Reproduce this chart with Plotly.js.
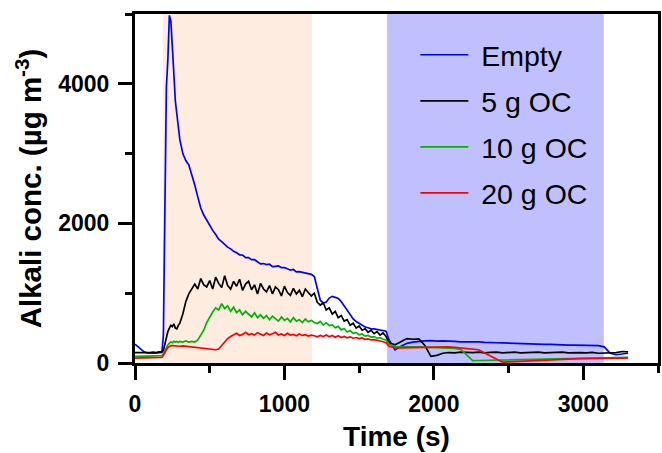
<!DOCTYPE html>
<html>
<head>
<meta charset="utf-8">
<script src="https://cdn.plot.ly/plotly-3.0.1.min.js"></script>
<style>html,body{margin:0;padding:0;background:#fff;}#chart{width:662px;height:453px;}</style>
</head>
<body>
<div id="chart"></div>
<script>
// Time axis (s)
const time = [0,20,40,60,80,100,120,140,160,180,
 190,200,210,220,230,240,250,260,270,280,290,300,
 320,340,360,380,400,420,440,460,480,500,520,540,560,580,600,620,640,660,680,700,720,740,760,780,800,
 820,840,860,880,900,920,940,960,980,1000,1020,1040,1060,1080,1100,1120,1140,1160,1180,1200,
 1220,1240,1260,1280,1300,1320,1340,1360,1380,1400,1420,1440,1460,1480,1500,1520,1540,1560,1580,1600,
 1620,1640,1660,1680,1700,
 1740,1780,1820,1860,1900,1940,1980,2020,2060,2100,2140,2180,2220,2260,2300,2340,2380,2420,2460,2500,
 2540,2580,2620,2660,2700,2740,2780,2820,2860,2900,2940,2980,3020,3060,3100,3140,3180,3220,3260,3300];

// Alkali concentration (µg m-3)
const empty = [270,230,190,160,145,140,140,142,145,150,
 400,2500,3950,4350,4980,4900,4400,4150,3750,3550,3380,3200,
 3000,2900,2840,2710,2550,2380,2220,2120,2040,1980,1900,1840,1775,1740,1700,1660,1635,1600,1580,1550,
 1545,1510,1510,1480,1480,1450,1420,1425,1410,1415,1380,1385,1390,1365,1365,1350,1330,1340,1305,1310,
 1300,1285,1280,1270,1240,1050,900,860,875,930,955,940,925,880,820,760,690,630,595,570,545,515,505,490,490,
 480,475,465,455,330,
 190,240,282,300,312,318,320,312,316,308,310,304,306,300,302,296,298,290,288,284,
 285,280,279,272,272,266,267,261,262,257,256,254,252,249,250,232,140,118,125,140];

const oc5 = [150,150,140,150,145,150,155,150,160,160,
 180,280,380,450,500,540,520,560,500,490,540,570,
 700,880,990,1060,
 1130,1060,1210,1120,1090,1180,1060,1230,1140,1080,1250,1110,1060,1170,1100,1200,1040,1130,1170,1050,
 1120,990,1140,1060,1020,1110,990,1090,1050,960,1100,1010,970,1070,990,1040,950,1060,1010,960,1000,
 870,830,860,760,790,700,740,650,680,600,620,540,570,500,530,470,490,440,470,420,450,400,430,380,290,
 260,310,350,340,345,250,95,110,140,150,145,155,150,148,155,145,152,156,146,150,
 155,145,151,149,156,144,150,152,155,145,150,149,146,151,140,141,146,150,165,160];

const oc10 = [95,95,95,100,100,100,100,105,105,105,
 130,180,220,260,285,300,290,310,300,310,295,310,
 300,315,300,310,300,330,400,470,580,660,
 730,790,760,850,780,820,740,800,720,760,690,740,700,660,720,650,690,640,680,620,
 670,630,600,660,610,640,590,650,600,620,580,630,590,610,580,
 565,595,545,575,535,545,505,525,475,495,445,465,425,435,405,415,385,395,370,378,355,362,340,332,270,
 235,232,236,231,230,228,226,222,220,215,210,195,110,35,36,38,38,40,42,45,
 47,50,52,55,57,60,62,64,66,68,70,70,72,74,75,76,78,78,80,80];

const oc20 = [70,70,72,70,72,75,75,75,78,80,
 110,160,190,220,240,250,248,245,250,240,245,240,
 245,240,235,232,225,228,220,212,205,200,195,190,200,250,310,350,380,
 400,425,395,410,440,405,420,400,435,410,395,430,405,420,440,400,415,395,425,400,410,390,415,395,405,385,400,390,
 375,395,380,400,375,395,370,390,365,380,360,375,355,365,350,360,340,345,330,335,320,315,305,290,240,
 215,218,220,220,222,225,225,228,228,230,225,215,205,200,190,145,100,55,12,15,
 20,25,30,33,38,42,46,50,55,58,60,62,65,66,68,69,70,70,71,72];

const seriesNames = ['Empty', '5 g OC', '10 g OC', '20 g OC'];
const seriesData = [empty, oc5, oc10, oc20];
const seriesColors = ['#0000ff', '#000000', '#00b400', '#ff0000'];

// shaded periods (s)
const period1 = [187, 1185];
const period2 = [1687, 3137];

const font = 'Liberation Sans, Arial, sans-serif';

const traces = seriesNames.map((n, i) => ({
  x: time, y: seriesData[i], name: '\u00a0' + n, type: 'scatter', mode: 'lines',
  legendgroup: 'g' + i,
  line: {color: seriesColors[i], width: 1.7}
}));

const axisCommon = {
  showgrid: false, zeroline: false, showline: true, linecolor: '#000', linewidth: 3,
  mirror: true, ticks: 'outside', ticklen: 14, tickwidth: 3, tickcolor: '#000',
  tickfont: {family: font, size: 23, color: '#000', weight: 'bold'},
  ticklabelstandoff: 4
};

const layout = {
  width: 662, height: 453,
  margin: {l: 135, r: 4, t: 14, b: 90},
  paper_bgcolor: '#fff', plot_bgcolor: '#fff',
  showlegend: true,
  legend: {x: 0.536, y: 0.955, xanchor: 'left', yanchor: 'top', bgcolor: 'rgba(0,0,0,0)',
    font: {family: font, size: 28.5, color: '#000'}, traceorder: 'grouped', tracegroupgap: 6, itemwidth: 48},
  xaxis: Object.assign({}, axisCommon, {
    range: [0, 3500], dtick: 1000, tick0: 0,
    minor: {ticks: 'outside', ticklen: 7, tickwidth: 3, tickcolor: '#000', dtick: 500},
    title: {text: 'Time (s)', font: {family: font, size: 28, color: '#000', weight: 'bold'}, standoff: 11}
  }),
  yaxis: Object.assign({}, axisCommon, {
    range: [0, 5000], dtick: 2000, tick0: 0,
    minor: {ticks: 'outside', ticklen: 7, tickwidth: 3, tickcolor: '#000', dtick: 1000},
    title: {text: 'Alkali conc. (µg m<sup>-3</sup>)', font: {family: font, size: 29.5, color: '#000', weight: 'bold'}, standoff: 8}
  }),
  shapes: [
    {type: 'rect', xref: 'x', yref: 'paper', x0: period1[0], x1: period1[1], y0: 0, y1: 1,
     fillcolor: '#fdecdf', line: {width: 0}, layer: 'below'},
    {type: 'rect', xref: 'x', yref: 'paper', x0: period2[0], x1: period2[1], y0: 0, y1: 1,
     fillcolor: '#c0c0ff', line: {width: 0}, layer: 'below'}
  ]
};

Plotly.newPlot('chart', traces, layout, {displayModeBar: false, staticPlot: true});
</script>
</body>
</html>
